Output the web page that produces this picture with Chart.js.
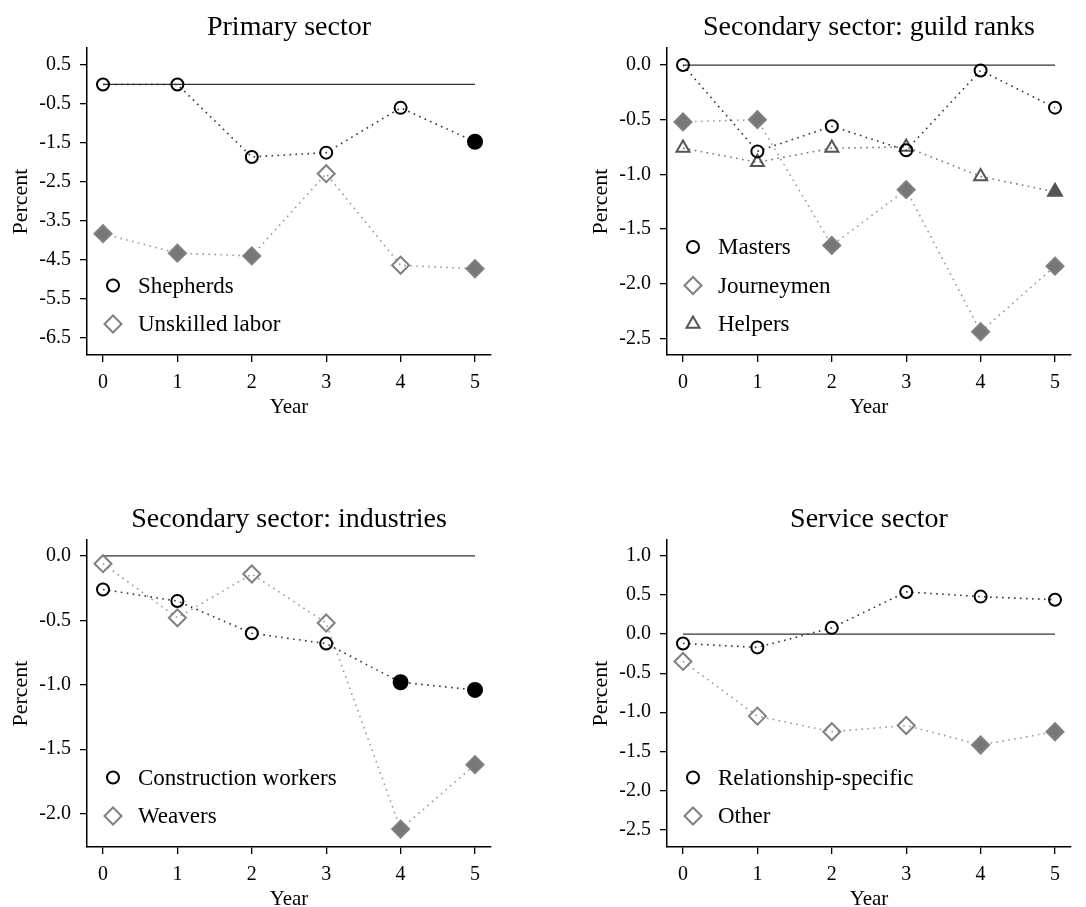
<!DOCTYPE html>
<html>
<head>
<meta charset="utf-8">
<script src="https://cdn.jsdelivr.net/npm/chart.js"></script>
<style>
  html, body { margin: 0; padding: 0; background: #fff; overflow: hidden; }
  body { width: 1086px; height: 907px; position: relative; }
  .panel { position: absolute; width: 506px; height: 430px; }
</style>
</head>
<body>
<div class="panel" style="left:0;top:0"><canvas id="chartPrimary"></canvas></div>
<div class="panel" style="left:580px;top:0"><canvas id="chartGuild"></canvas></div>
<div class="panel" style="left:0;top:492px"><canvas id="chartIndustry"></canvas></div>
<div class="panel" style="left:580px;top:492px"><canvas id="chartService"></canvas></div>

<script>
// --- Data
const years = [0, 1, 2, 3, 4, 5];

// Primary sector
const shepherds    = [0.0, 0.0, -1.86, -1.75, -0.60, -1.47];
const shepherdsSig = [false, false, false, false, false, true];
const unskilled    = [-3.83, -4.33, -4.40, -2.29, -4.64, -4.73];
const unskilledSig = [true, true, true, false, false, true];
const primaryTicks = [0.5, -0.5, -1.5, -2.5, -3.5, -4.5, -5.5, -6.5];

// Secondary sector: guild ranks
const masters       = [0.0, -0.79, -0.56, -0.78, -0.05, -0.39];
const mastersSig    = [false, false, false, false, false, false];
const journeymen    = [-0.52, -0.50, -1.65, -1.14, -2.44, -1.84];
const journeymenSig = [true, true, true, true, true, true];
const helpers       = [-0.76, -0.89, -0.76, -0.75, -1.02, -1.16];
const helpersSig    = [false, false, false, false, false, true];
const guildTicks    = [0.0, -0.5, -1.0, -1.5, -2.0, -2.5];

// Secondary sector: industries
const construction    = [-0.26, -0.35, -0.60, -0.68, -0.98, -1.04];
const constructionSig = [false, false, false, false, true, true];
const weavers         = [-0.06, -0.48, -0.14, -0.52, -2.12, -1.62];
const weaversSig      = [false, false, false, false, true, true];
const industryTicks   = [0.0, -0.5, -1.0, -1.5, -2.0];

// Service sector
const relSpecific    = [-0.12, -0.17, 0.08, 0.54, 0.48, 0.44];
const relSpecificSig = [false, false, false, false, false, false];
const otherServ      = [-0.35, -1.05, -1.25, -1.17, -1.42, -1.25];
const otherServSig   = [false, false, false, false, true, true];
const serviceTicks   = [1.0, 0.5, 0.0, -0.5, -1.0, -1.5, -2.0, -2.5];

const SERIF = '"Liberation Serif", "Times New Roman", serif';

// marker looks (Stata-ish: hollow = insignificant, filled = significant)
const markerStyles = {
  circle:   { pointStyle: 'circle',   radius: 6,   filledRadius: 7,   stroke: '#000',    fill: '#000',    line: '#333' },
  diamond:  { pointStyle: 'rectRot',  radius: 8.5, filledRadius: 8.5, stroke: '#808080', fill: '#777777', line: '#9a9a9a' },
  triangle: { pointStyle: 'triangle', radius: 7.5, filledRadius: 8,   stroke: '#555',    fill: '#555',    line: '#777' }
};

function makeSeries(label, values, sig, kind) {
  const st = markerStyles[kind];
  return {
    label: label,
    legendKind: kind,
    data: years.map((yr, i) => ({ x: yr, y: values[i] })),
    borderColor: st.line,
    borderWidth: 1.6,
    borderDash: [1.6, 4.4],
    fill: false,
    tension: 0,
    pointStyle: st.pointStyle,
    pointRadius: sig.map(s => s ? st.filledRadius : st.radius),
    pointBorderWidth: 2,
    pointBorderColor: st.stroke,
    pointBackgroundColor: sig.map(s => s ? st.fill : 'rgba(0,0,0,0)'),
    order: 1
  };
}

function zeroLine() {
  return {
    label: 'zero',
    data: [{ x: years[0], y: 0 }, { x: years[years.length - 1], y: 0 }],
    borderColor: '#333',
    borderWidth: 1.2,
    pointRadius: 0,
    order: 10
  };
}

// small marker painter for the legend inside the plot
function drawMarker(ctx, kind, x, y) {
  const st = markerStyles[kind];
  const r = st.radius;
  ctx.save();
  ctx.lineWidth = 2;
  ctx.strokeStyle = st.stroke;
  ctx.beginPath();
  if (kind === 'circle') {
    ctx.arc(x, y, r, 0, Math.PI * 2);
  } else if (kind === 'diamond') {
    ctx.moveTo(x - r, y); ctx.lineTo(x, y - r); ctx.lineTo(x + r, y); ctx.lineTo(x, y + r);
    ctx.closePath();
  } else {
    const a = Math.PI * 2 / 3;
    ctx.moveTo(x, y - r);
    ctx.lineTo(x + Math.sin(a) * r, y - Math.cos(a) * r);
    ctx.lineTo(x + Math.sin(2 * a) * r, y - Math.cos(2 * a) * r);
    ctx.closePath();
  }
  ctx.stroke();
  ctx.restore();
}

const insideLegend = {
  id: 'insideLegend',
  afterDraw(chart) {
    const { ctx, chartArea } = chart;
    const items = chart.data.datasets.filter(ds => ds.legendKind);
    ctx.save();
    ctx.font = '23px ' + SERIF;
    ctx.textBaseline = 'middle';
    items.forEach((ds, i) => {
      const y = chartArea.bottom - 31 - (items.length - 1 - i) * 38.5;
      drawMarker(ctx, ds.legendKind, chartArea.left + 26, y);
      ctx.fillStyle = '#000';
      ctx.fillText(ds.label, chartArea.left + 51, y + 1);
    });
    ctx.restore();
  }
};

function makeChart(canvasId, title, datasets, yMin, yMax, yTicks) {
  const ctx = document.getElementById(canvasId).getContext('2d');
  return new Chart(ctx, {
    type: 'line',
    data: { datasets: datasets.concat([zeroLine()]) },
    plugins: [insideLegend],
    options: {
      animation: false,
      responsive: true,
      maintainAspectRatio: false,
      layout: { padding: { left: 0, right: 15, top: 0, bottom: 0 } },
      plugins: {
        legend: { display: false },
        tooltip: { enabled: false },
        title: {
          display: true,
          text: title,
          fullSize: false,
          color: '#000',
          font: { family: SERIF, size: 28, weight: 'normal' },
          padding: { top: 11.2, bottom: 3.2 }
        }
      },
      scales: {
        x: {
          type: 'linear',
          min: -0.215,
          max: 5.215,
          afterBuildTicks: s => { s.ticks = years.map(v => ({ value: v })); },
          afterFit: s => { s.height = 75; },
          grid: { display: true, drawOnChartArea: false, drawTicks: true, tickLength: 7, color: '#000', lineWidth: 1.3 },
          border: { display: true, color: '#000', width: 1.5 },
          ticks: { color: '#000', font: { family: SERIF, size: 20 }, padding: 9, maxRotation: 0, autoSkip: false, callback: v => String(v) },
          title: { display: true, text: 'Year', color: '#000', font: { family: SERIF, size: 21 }, padding: { top: 0, bottom: 10.4 } }
        },
        y: {
          min: yMin,
          max: yMax,
          afterBuildTicks: s => { s.ticks = yTicks.map(v => ({ value: v })); },
          afterFit: s => { s.width = 87; },
          grid: { display: true, drawOnChartArea: false, drawTicks: true, tickLength: 7, color: '#000', lineWidth: 1.3 },
          border: { display: true, color: '#000', width: 1.5 },
          ticks: { color: '#000', font: { family: SERIF, size: 20 }, padding: 9, autoSkip: false, callback: v => Number(v).toFixed(1) },
          title: { display: true, text: 'Percent', color: '#000', font: { family: SERIF, size: 22 }, padding: { top: 7.8, bottom: 0 } }
        }
      }
    }
  });
}

makeChart('chartPrimary', 'Primary sector', [
  makeSeries('Shepherds', shepherds, shepherdsSig, 'circle'),
  makeSeries('Unskilled labor', unskilled, unskilledSig, 'diamond')
], -6.944, 0.936, primaryTicks);

makeChart('chartGuild', 'Secondary sector: guild ranks', [
  makeSeries('Masters', masters, mastersSig, 'circle'),
  makeSeries('Journeymen', journeymen, journeymenSig, 'diamond'),
  makeSeries('Helpers', helpers, helpersSig, 'triangle')
], -2.653, 0.156, guildTicks);

makeChart('chartIndustry', 'Secondary sector: industries', [
  makeSeries('Construction workers', construction, constructionSig, 'circle'),
  makeSeries('Weavers', weavers, weaversSig, 'diamond')
], -2.259, 0.124, industryTicks);

makeChart('chartService', 'Service sector', [
  makeSeries('Relationship-specific', relSpecific, relSpecificSig, 'circle'),
  makeSeries('Other', otherServ, otherServSig, 'diamond')
], -2.726, 1.205, serviceTicks);
</script>
</body>
</html>
